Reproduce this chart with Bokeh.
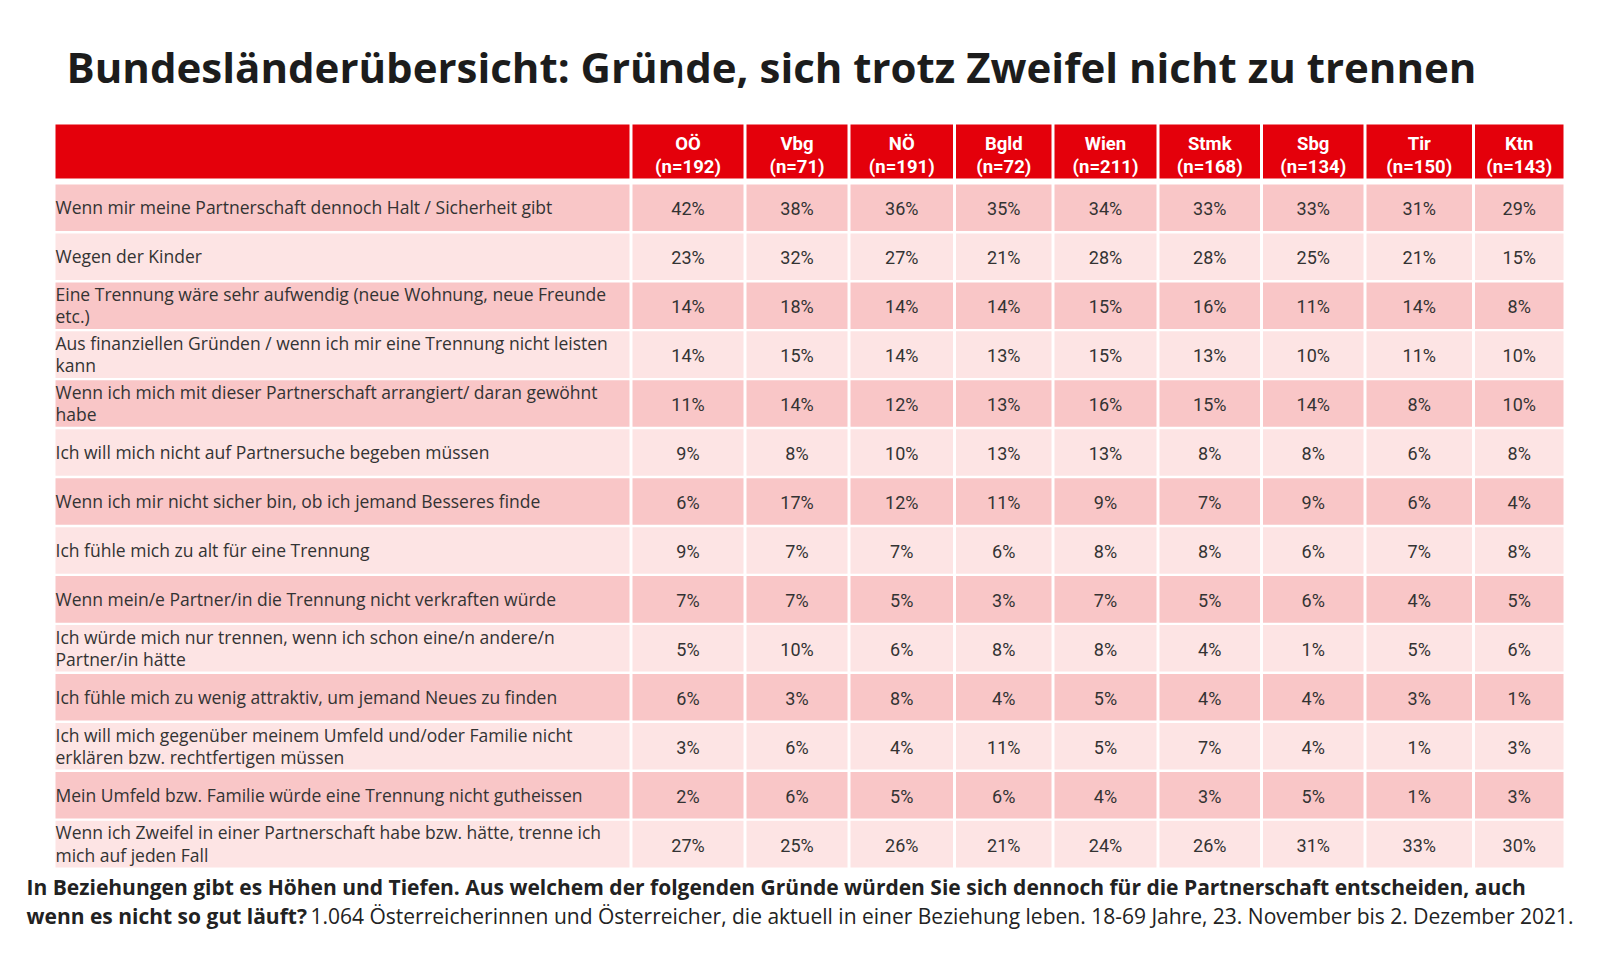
from bokeh.plotting import figure
from bokeh.models import ColumnDataSource, Range1d
from bokeh.core.properties import value
from bokeh.embed import file_html
from bokeh.resources import INLINE

# ---------------- data ----------------
title_text = "Bundesländerübersicht: Gründe, sich trotz Zweifel nicht zu trennen"

regions = ["OÖ", "Vbg", "NÖ", "Bgld", "Wien", "Stmk", "Sbg", "Tir", "Ktn"]
sample_sizes = [192, 71, 191, 72, 211, 168, 134, 150, 143]

reasons = [
    "Wenn mir meine Partnerschaft dennoch Halt / Sicherheit gibt",
    "Wegen der Kinder",
    "Eine Trennung wäre sehr aufwendig (neue Wohnung, neue Freunde\netc.)",
    "Aus finanziellen Gründen / wenn ich mir eine Trennung nicht leisten\nkann",
    "Wenn ich mich mit dieser Partnerschaft arrangiert/ daran gewöhnt\nhabe",
    "Ich will mich nicht auf Partnersuche begeben müssen",
    "Wenn ich mir nicht sicher bin, ob ich jemand Besseres finde",
    "Ich fühle mich zu alt für eine Trennung",
    "Wenn mein/e Partner/in die Trennung nicht verkraften würde",
    "Ich würde mich nur trennen, wenn ich schon eine/n andere/n\nPartner/in hätte",
    "Ich fühle mich zu wenig attraktiv, um jemand Neues zu finden",
    "Ich will mich gegenüber meinem Umfeld und/oder Familie nicht\nerklären bzw. rechtfertigen müssen",
    "Mein Umfeld bzw. Familie würde eine Trennung nicht gutheissen",
    "Wenn ich Zweifel in einer Partnerschaft habe bzw. hätte, trenne ich\nmich auf jeden Fall",
]

share_ooe = [42, 23, 14, 14, 11, 9, 6, 9, 7, 5, 6, 3, 2, 27]
share_vbg = [38, 32, 18, 15, 14, 8, 17, 7, 7, 10, 3, 6, 6, 25]
share_noe = [36, 27, 14, 14, 12, 10, 12, 7, 5, 6, 8, 4, 5, 26]
share_bgld = [35, 21, 14, 13, 13, 13, 11, 6, 3, 8, 4, 11, 6, 21]
share_wien = [34, 28, 15, 15, 16, 13, 9, 8, 7, 8, 5, 5, 4, 24]
share_stmk = [33, 28, 16, 13, 15, 8, 7, 8, 5, 4, 4, 7, 3, 26]
share_sbg = [33, 25, 11, 10, 14, 8, 9, 6, 6, 1, 4, 4, 5, 31]
share_tir = [31, 21, 14, 11, 8, 6, 6, 7, 4, 5, 3, 1, 1, 33]
share_ktn = [29, 15, 8, 10, 10, 8, 4, 8, 5, 6, 1, 3, 3, 30]
shares = [share_ooe, share_vbg, share_noe, share_bgld, share_wien,
          share_stmk, share_sbg, share_tir, share_ktn]

footer_line1 = ("In Beziehungen gibt es Höhen und Tiefen. Aus welchem der folgenden Gründe "
                "würden Sie sich dennoch für die Partnerschaft entscheiden, auch")
footer_line2_bold = "wenn es nicht so gut läuft?"
footer_line2_regular = ("1.064 Österreicherinnen und Österreicher, die aktuell in einer Beziehung "
                        "leben. 18-69 Jahre, 23. November bis 2. Dezember 2021.")

# ---------------- layout (page pixels) ----------------
W, H = 1600, 955
TABLE_LEFT = 55
LABEL_RIGHT = 629
COL_BOUNDS = [630.5, 744.5, 848.5, 954, 1052.5, 1157.5, 1261, 1364.5, 1473]
TABLE_RIGHT = 1563
HEADER_TOP, HEADER_BOTTOM = 124, 178
ROW_TOP0 = 184
ROW_PITCH = 48.95
ROW_GAP = 2.4
COL_GAP = 3

RED = "#E4000B"
DARK_PINK = "#F9C6C7"
LIGHT_PINK = "#FDE4E4"
TEXT = "#333333"

p = figure(width=W, height=H, x_range=Range1d(0, W), y_range=Range1d(H, 0),
           output_backend="svg", toolbar_location=None, title=None, min_border=0,
           x_axis_type=None, y_axis_type=None)
p.grid.visible = False
p.outline_line_color = None
p.background_fill_color = "white"
p.border_fill_color = "white"

col_left = [b + COL_GAP / 2 for b in COL_BOUNDS]
col_right = [b - COL_GAP / 2 for b in COL_BOUNDS[1:]] + [TABLE_RIGHT]
col_center = [(l + r) / 2 for l, r in zip(col_left, col_right)]

# header
hdr = ColumnDataSource(dict(
    left=[TABLE_LEFT] + col_left,
    right=[LABEL_RIGHT] + col_right,
    top=[HEADER_TOP] * (len(regions) + 1),
    bottom=[HEADER_BOTTOM] * (len(regions) + 1),
))
p.quad(left="left", right="right", top="top", bottom="bottom", source=hdr,
       fill_color=RED, line_color=None)
p.text(x=col_center, y=[HEADER_TOP + 19] * len(regions), text=regions,
       text_font=value("Roboto"), text_font_style="bold", text_font_size="18.5px",
       text_color="white", text_align="center", text_baseline="middle")
p.text(x=col_center, y=[HEADER_TOP + 42] * len(regions),
       text=[f"(n={n})" for n in sample_sizes],
       text_font=value("Roboto"), text_font_style="bold", text_font_size="18.5px",
       text_color="white", text_align="center", text_baseline="middle")

# body cells
cl, cr, ct, cb, cc = [], [], [], [], []
vx, vy, vt = [], [], []
lx, ly = [], []
for i, reason in enumerate(reasons):
    top = ROW_TOP0 + i * ROW_PITCH
    bottom = top + ROW_PITCH - ROW_GAP
    fill = DARK_PINK if i % 2 == 0 else LIGHT_PINK
    cl.append(TABLE_LEFT); cr.append(LABEL_RIGHT); ct.append(top); cb.append(bottom); cc.append(fill)
    lx.append(TABLE_LEFT); ly.append((top + bottom) / 2 - 0.5)
    for j in range(len(regions)):
        cl.append(col_left[j]); cr.append(col_right[j]); ct.append(top); cb.append(bottom); cc.append(fill)
        vx.append(col_center[j]); vy.append((top + bottom) / 2 + 1)
        vt.append(f"{shares[j][i]}%")

p.quad(left=cl, right=cr, top=ct, bottom=cb, fill_color=cc, line_color=None)
p.text(x=vx, y=vy, text=vt, text_font=value("Roboto"), text_font_size="18px",
       text_color=TEXT, text_align="center", text_baseline="middle")
p.text(x=lx, y=ly, text=reasons, text_font=value("Open Sans"), text_font_size="17.5px",
       text_color=TEXT, text_align="left", text_baseline="middle", text_line_height=0.93)

# title
p.text(x=[66], y=[66], text=[title_text], text_font=value("Open Sans"), text_font_style="bold",
       text_font_size="42px", text_color="#1c1c1c", text_align="left",
       text_baseline="middle")

# footer
p.text(x=[26], y=[886], text=[footer_line1], text_font=value("Open Sans"),
       text_font_style="bold", text_font_size="21px", text_color="#222222",
       text_align="left", text_baseline="middle")
p.text(x=[26], y=[915], text=[footer_line2_bold], text_font=value("Open Sans"),
       text_font_style="bold", text_font_size="21px", text_color="#222222",
       text_align="left", text_baseline="middle")
p.text(x=[310], y=[915], text=[footer_line2_regular], text_font=value("Open Sans"),
       text_font_size="21px", text_color="#222222",
       text_align="left", text_baseline="middle")

open("out.html", "w").write(file_html(p, INLINE))
